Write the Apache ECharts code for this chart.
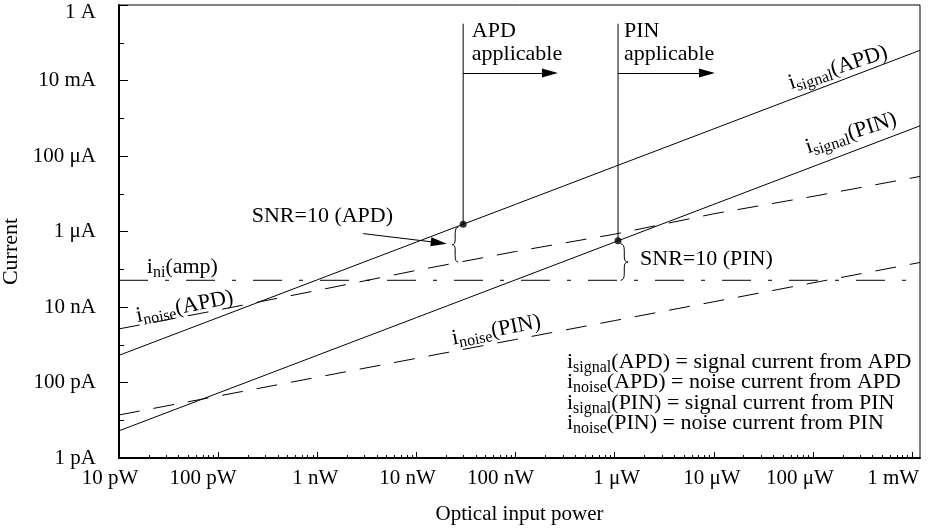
<!DOCTYPE html>
<html>
<head>
<meta charset="utf-8">
<script src="https://cdn.jsdelivr.net/npm/echarts@6/dist/echarts.min.js"></script>
<style>
html,body{margin:0;padding:0;background:#fff;}
#chart{width:944px;height:529px;}
</style>
</head>
<body>
<div id="chart"></div>
<script>
// ---------------- data ----------------
const powerW     = [1e-11, 1e-10, 1e-9, 1e-8, 1e-7, 1e-6, 1e-5, 1e-4, 1e-3, 1.2e-3];
const signalAPD  = [5.25e-10, 5.25e-9, 5.25e-8, 5.25e-7, 5.25e-6, 5.25e-5, 5.25e-4, 5.25e-3, 5.25e-2, 6.3e-2];
const signalPIN  = [5.25e-12, 5.25e-11, 5.25e-10, 5.25e-9, 5.25e-8, 5.25e-7, 5.25e-6, 5.25e-5, 5.25e-4, 6.3e-4];
const noiseAPD   = [2.63e-9, 8.32e-9, 2.75e-8, 9.33e-8, 2.95e-7, 8.51e-7, 2.95e-6, 8.51e-6, 2.63e-5, 2.88e-5];
const noisePIN   = [1.38e-11, 4.37e-11, 1.38e-10, 4.37e-10, 1.38e-9, 4.37e-9, 1.38e-8, 4.37e-8, 1.38e-7, 1.51e-7];
const ampPower   = [1e-11, 1.2e-3];
const ampNoise   = [5.1e-8, 5.1e-8];

// SNR = 10 points (APD, PIN)
const snrPower   = [2.96e-8, 1.08e-6];
const snrSignal  = [1.55e-6, 5.67e-7];
const snrNoise   = [1.55e-7, 5.1e-8];
const applicableTop = 0.32;        // top of the vertical "applicable" lines
const arrowLevel    = 0.0158;      // current level of the "applicable" arrows
const arrowEnd      = [2.22e-7, 8.51e-6];
const snrArrowStart = [2.90e-9, 8.79e-7];
const snrArrowEnd   = [1.68e-8, 5.05e-7];

// axis ticks
const xTickValues = [1e-11, 1e-10, 1e-9, 1e-8, 1e-7, 1e-6, 1e-5, 1e-4, 1e-3];
const xTickLabels = ['10 pW', '100 pW', '1 nW', '10 nW', '100 nW', '1 \u03bcW', '10 \u03bcW', '100 \u03bcW', '1 mW'];
const yTickValues = [1e-12, 1e-10, 1e-8, 1e-6, 1e-4, 1e-2, 1];
const yTickLabels = ['1 pA', '100 pA', '10 nA', '1 \u03bcA', '100 \u03bcA', '10 mA', '1 A'];
const yMinorTickValues = [1e-11, 1e-9, 1e-7, 1e-5, 1e-3, 1e-1];
const xMinorMantissas = [2, 3, 4, 5, 6, 7, 8, 9];
const xMinorTickValues = [];
xTickValues.slice(0, -1).forEach(d => xMinorMantissas.forEach(m => xMinorTickValues.push(m * d)));

// annotation anchors (data space)
const anchors = {
  apdApplicable: [3.62e-8, 0.405],
  pinApplicable: [1.24e-6, 0.405],
  snrAPD:        [2.18e-10, 2.53e-6],
  snrPIN:        [1.80e-6, 1.84e-7],
  ampNoise:      [1.91e-11, 1.13e-7],
  sigAPD:        [1.79e-4, 0.0217],
  sigPIN:        [2.42e-4, 3.99e-4],
  noiseAPD:      [4.60e-11, 1.01e-8],
  noisePIN:      [6.40e-8, 2.41e-9],
  legend:        [3.30e-7, 6.50e-10]
};

// ---------------- styling ----------------
const FONT = "'Liberation Serif', 'Times New Roman', Times, serif";
const xLabelShift = [-9, -15, -2, -9, -15, 2, -2, -13, -19];
const zip = (xs, ys) => xs.map((x, i) => [x, ys[i]]);
const nearest = (arr, v) => {
  let best = 0, bd = Infinity;
  arr.forEach((a, i) => { const d = Math.abs(Math.log10(a) - Math.log10(v)); if (d < bd) { bd = d; best = i; } });
  return best;
};

const xRich = {};
xLabelShift.forEach((d, i) => {
  xRich['x' + i] = {
    fontFamily: FONT, fontSize: 21, color: '#000',
    padding: d < 0 ? [0, -2 * d, 0, 0] : [0, 0, 0, 2 * d]
  };
});

const black = '#000';
const lineBase = { type: 'line', showSymbol: false, symbol: 'none', silent: true, clip: true, z: 3, animation: false };

const option = {
  animation: false,
  backgroundColor: '#fff',
  textStyle: { fontFamily: FONT, color: black },
  grid: {
    left: 119, top: 5, width: 801, height: 453,
    show: true, borderColor: black, borderWidth: 1, backgroundColor: 'transparent',
    containLabel: false, outerBoundsMode: 'none'
  },
  xAxis: [
    {
      type: 'log', logBase: 10, min: 1e-11, max: 1.2e-3, position: 'bottom',
      axisLine: { show: true, lineStyle: { color: black, width: 2 } },
      axisTick: { show: true, inside: true, length: 6, lineStyle: { color: black, width: 1 }, customValues: xTickValues },
      minorTick: { show: false },
      splitLine: { show: false },
      axisLabel: {
        show: true, customValues: xTickValues, margin: 10, color: black,
        fontFamily: FONT, fontSize: 21,
        formatter: v => { const i = nearest(xTickValues, v); return '{x' + i + '|' + xTickLabels[i] + '}'; },
        rich: xRich
      },
      name: 'Optical input power', nameLocation: 'middle', nameGap: 46,
      nameTextStyle: { fontFamily: FONT, fontSize: 21, color: black }
    },
    {
      type: 'log', logBase: 10, min: 1e-11, max: 1.2e-3, position: 'bottom',
      axisLine: { show: false },
      axisTick: { show: true, inside: true, length: 3, lineStyle: { color: black, width: 1 }, customValues: xMinorTickValues },
      axisLabel: { show: false },
      splitLine: { show: false }
    }
  ],
  yAxis: [
    {
      type: 'log', logBase: 10, min: 1e-12, max: 1, position: 'left',
      axisLine: { show: true, lineStyle: { color: black, width: 2 } },
      axisTick: { show: true, inside: true, length: 9, lineStyle: { color: black, width: 1 }, customValues: yTickValues },
      minorTick: { show: false },
      splitLine: { show: false },
      axisLabel: {
        show: true, customValues: yTickValues, margin: 23, color: black,
        fontFamily: FONT, fontSize: 21,
        formatter: v => { const i = nearest(yTickValues, v); return i === yTickValues.length - 1 ? '{top|' + yTickLabels[i] + '}' : yTickLabels[i]; },
        rich: { top: { fontFamily: FONT, fontSize: 21, color: black, padding: [14, 0, 0, 0] } }
      },
      name: 'Current', nameLocation: 'middle', nameGap: 91,
      nameTextStyle: { fontFamily: FONT, fontSize: 22, color: black, padding: [0, 40, 0, 0] }
    },
    {
      type: 'log', logBase: 10, min: 1e-12, max: 1, position: 'left',
      axisLine: { show: false },
      axisTick: { show: true, inside: true, length: 5, lineStyle: { color: black, width: 1 }, customValues: yMinorTickValues },
      axisLabel: { show: false },
      splitLine: { show: false }
    }
  ],
  series: [
    Object.assign({}, lineBase, { name: 'i_signal(APD)', data: zip(powerW, signalAPD), lineStyle: { color: black, width: 1 } }),
    Object.assign({}, lineBase, { name: 'i_signal(PIN)', data: zip(powerW, signalPIN), lineStyle: { color: black, width: 1 } }),
    Object.assign({}, lineBase, { name: 'i_noise(APD)', data: zip(powerW, noiseAPD), lineStyle: { color: black, width: 1, type: [21, 14] } }),
    Object.assign({}, lineBase, { name: 'i_noise(PIN)', data: zip(powerW, noisePIN), lineStyle: { color: black, width: 1, type: [21, 14] } }),
    Object.assign({}, lineBase, { name: 'i_ni(amp)', data: zip(ampPower, ampNoise), lineStyle: { color: black, width: 1, type: [29, 17, 4, 17] } }),
    Object.assign({}, lineBase, { name: 'APD applicable', data: [[snrPower[0], applicableTop], [snrPower[0], snrSignal[0]]], lineStyle: { color: black, width: 1 } }),
    Object.assign({}, lineBase, { name: 'PIN applicable', data: [[snrPower[1], applicableTop], [snrPower[1], snrSignal[1]]], lineStyle: { color: black, width: 1 } }),
    {
      type: 'scatter', name: 'SNR=10', data: zip(snrPower, snrSignal), symbol: 'circle', symbolSize: 7,
      itemStyle: { color: black }, z: 6, silent: true, animation: false,
      markLine: {
        silent: true, animation: false, symbol: ['none', 'triangle'],
        label: { show: false }, emphasis: { disabled: true },
        lineStyle: { color: black, width: 1, type: 'solid' },
        data: [
          [{ coord: [snrPower[0], arrowLevel] }, { coord: [arrowEnd[0], arrowLevel], symbolSize: [9, 16] }],
          [{ coord: [snrPower[1], arrowLevel] }, { coord: [arrowEnd[1], arrowLevel], symbolSize: [9, 16] }],
          [{ coord: snrArrowStart }, { coord: snrArrowEnd, symbolSize: [9, 16] }]
        ]
      }
    }
  ]
};

const chart = echarts.init(document.getElementById('chart'), null, { renderer: 'canvas' });
chart.setOption(option);

// ---------------- annotations ----------------
const toPx = p => chart.convertToPixel({ gridIndex: 0 }, p);
const subRich = { s: { font: '16px ' + FONT, fill: black, padding: [11, 0, 0, 0] } };

function textEl(at, text, o) {
  const p = toPx(at);
  const style = {
    text: text, font: (o.size || 22) + 'px ' + FONT, fill: black,
    align: o.align || 'left', verticalAlign: o.valign || 'middle',
    textAlign: o.align || 'left', textVerticalAlign: o.valign || 'middle',
    rich: subRich
  };
  if (o.lh) style.lineHeight = o.lh;
  return { type: 'text', x: p[0], y: p[1], rotation: (o.rot || 0) * Math.PI / 180, z: 100, silent: true, style: style };
}

function brace(xEnd, xTip, y0, y1) {
  const xm = (xEnd + xTip) / 2, ym = (y0 + y1) / 2, h = y1 - y0;
  const st = { stroke: black, fill: 'none', lineWidth: 1 };
  const a = y0 + h * 0.18, b = ym - h * 0.14, c = ym + h * 0.14, d = y1 - h * 0.18;
  return [
    { type: 'bezierCurve', shape: { x1: xEnd, y1: y0, cpx1: xm, cpy1: y0, x2: xm, y2: a } },
    { type: 'line', shape: { x1: xm, y1: a, x2: xm, y2: b } },
    { type: 'bezierCurve', shape: { x1: xm, y1: b, cpx1: xm, cpy1: ym, x2: xTip, y2: ym } },
    { type: 'bezierCurve', shape: { x1: xTip, y1: ym, cpx1: xm, cpy1: ym, x2: xm, y2: c } },
    { type: 'line', shape: { x1: xm, y1: c, x2: xm, y2: d } },
    { type: 'bezierCurve', shape: { x1: xm, y1: d, cpx1: xm, cpy1: y1, x2: xEnd, y2: y1 } }
  ].map(s => Object.assign(s, { style: st, z: 100, silent: true }));
}

const dotA = toPx([snrPower[0], snrSignal[0]]);
const botA = toPx([snrPower[0], snrNoise[0]]);
const dotP = toPx([snrPower[1], snrSignal[1]]);
const botP = toPx([snrPower[1], snrNoise[1]]);

const legendText = [
  'i{s|signal}(APD) = signal current from APD',
  'i{s|noise}(APD) = noise current from APD',
  'i{s|signal}(PIN) = signal current from PIN',
  'i{s|noise}(PIN) = noise current from PIN'
].join('\n');

const elements = [
  textEl(anchors.apdApplicable, 'APD\napplicable', { align: 'left', valign: 'top', lh: 23 }),
  textEl(anchors.pinApplicable, 'PIN\napplicable', { align: 'left', valign: 'top', lh: 23 }),
  textEl(anchors.snrAPD, 'SNR=10 (APD)', { align: 'left' }),
  textEl(anchors.snrPIN, 'SNR=10 (PIN)', { align: 'left' }),
  textEl(anchors.ampNoise, 'i{s|ni}(amp)', { align: 'left' }),
  textEl(anchors.sigAPD, 'i{s|signal}(APD)', { align: 'center', rot: 18 }),
  textEl(anchors.sigPIN, 'i{s|signal}(PIN)', { align: 'center', rot: 18 }),
  textEl(anchors.noiseAPD, 'i{s|noise}(APD)', { align: 'center', rot: 11 }),
  textEl(anchors.noisePIN, 'i{s|noise}(PIN)', { align: 'center', rot: 11 }),
  textEl(anchors.legend, legendText, { align: 'left', valign: 'top', lh: 20.4 })
].concat(
  brace(dotA[0] - 5, dotA[0] - 11, dotA[1] + 3, botA[1]),
  brace(dotP[0] + 2.5, dotP[0] + 10, dotP[1] + 3, botP[1])
);

chart.setOption({ graphic: { elements: elements } });
</script>
</body>
</html>
